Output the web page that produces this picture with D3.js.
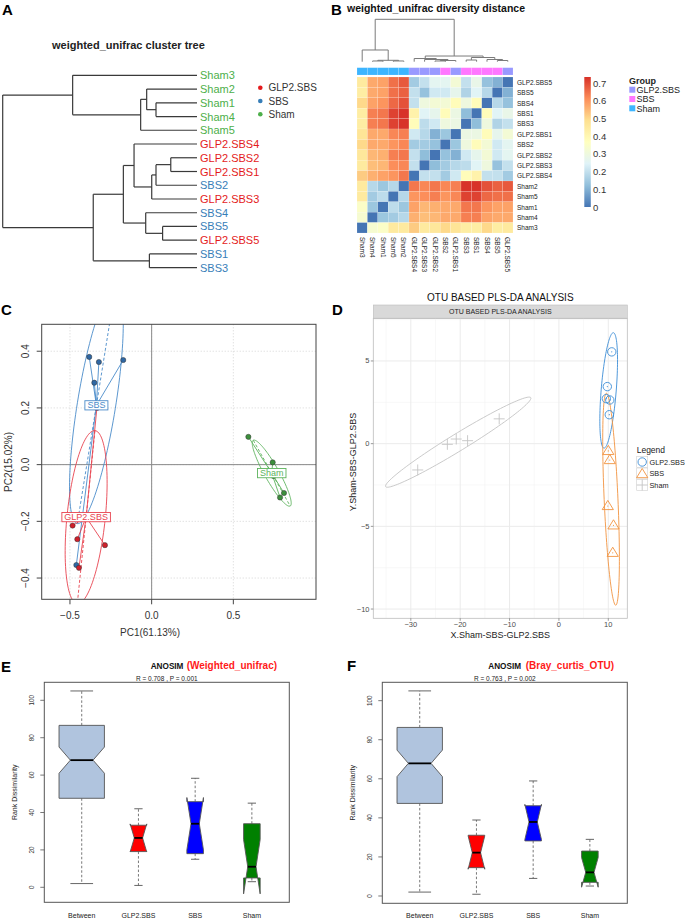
<!DOCTYPE html>
<html><head><meta charset="utf-8">
<script src="https://cdn.jsdelivr.net/npm/d3@7"></script>
<style>body{margin:0;background:#fff}svg{display:block}text{font-family:"Liberation Sans",Arial,Helvetica,sans-serif}</style>
</head><body><svg id="c" width="685" height="920"></svg>
<script>
// ---------------- DATA ----------------
// Panel A: cluster tree (h = relative merge height)
const treeA = {h:1, children:[
  {h:0.64, children:[{name:"Sham3"},
    {h:0.29, children:[{h:0.259, children:[{name:"Sham2"},{h:0.211, children:[{name:"Sham1"},{name:"Sham4"}]}]},{name:"Sham5"}]}]},
  {h:0.534, children:[
    {h:0.379, children:[
      {h:0.324, children:[{name:"GLP2.SBS4"},
        {h:0.233, children:[{h:0.211, children:[{h:0.135, children:[{name:"GLP2.SBS2"},{name:"GLP2.SBS1"}]},{name:"SBS2"}]},{name:"GLP2.SBS3"}]}]},
      {h:0.264, children:[{name:"SBS4"},{h:0.177, children:[{name:"SBS5"},{name:"GLP2.SBS5"}]}]}]},
    {h:0.245, children:[{name:"SBS1"},{name:"SBS3"}]}]}]};
const groupNames = ["GLP2.SBS","SBS","Sham"];
const groupColorsA = ["#E41A1C","#377EB8","#4DAF4A"];

// Panel B: heatmap
const hmCols = ["Sham3","Sham4","Sham1","Sham5","Sham2","GLP2.SBS4","GLP2.SBS3","GLP2.SBS2","SBS2","GLP2.SBS1","SBS3","SBS1","SBS4","SBS5","GLP2.SBS5"];
const hmRows = ["GLP2.SBS5","SBS5","SBS4","SBS1","SBS3","GLP2.SBS1","SBS2","GLP2.SBS2","GLP2.SBS3","GLP2.SBS4","Sham2","Sham5","Sham1","Sham4","Sham3"];
const hmValues = [
 [0.45,0.57,0.58,0.65,0.68, 0.15,0.20,0.26,0.26,0.32, 0.20,0.28,0.13,0.10,0.00],
 [0.44,0.57,0.58,0.65,0.67, 0.20,0.13,0.22,0.22,0.27, 0.17,0.25,0.18,0.00,0.10],
 [0.50,0.58,0.60,0.66,0.69, 0.20,0.30,0.32,0.32,0.38, 0.30,0.38,0.00,0.18,0.13],
 [0.44,0.63,0.64,0.71,0.73, 0.42,0.25,0.27,0.38,0.29, 0.12,0.00,0.38,0.25,0.28],
 [0.44,0.63,0.64,0.71,0.73, 0.38,0.19,0.22,0.30,0.29, 0.00,0.12,0.30,0.17,0.20],
 [0.47,0.57,0.57,0.62,0.63, 0.22,0.18,0.10,0.14,0.00, 0.29,0.29,0.38,0.27,0.32],
 [0.50,0.57,0.57,0.60,0.62, 0.15,0.15,0.13,0.00,0.14, 0.30,0.38,0.32,0.22,0.26],
 [0.46,0.55,0.56,0.63,0.64, 0.20,0.12,0.00,0.13,0.10, 0.22,0.27,0.32,0.22,0.26],
 [0.45,0.54,0.55,0.61,0.62, 0.20,0.00,0.12,0.15,0.18, 0.19,0.25,0.30,0.13,0.20],
 [0.52,0.56,0.58,0.60,0.64, 0.00,0.20,0.20,0.15,0.22, 0.38,0.42,0.20,0.20,0.15],
 [0.45,0.18,0.14,0.18,0.00, 0.64,0.62,0.64,0.62,0.63, 0.73,0.73,0.69,0.67,0.68],
 [0.45,0.15,0.19,0.00,0.18, 0.60,0.61,0.63,0.60,0.62, 0.71,0.71,0.66,0.65,0.65],
 [0.35,0.14,0.00,0.19,0.14, 0.58,0.55,0.56,0.57,0.57, 0.64,0.64,0.60,0.58,0.58],
 [0.33,0.00,0.14,0.15,0.18, 0.56,0.54,0.55,0.57,0.57, 0.63,0.63,0.58,0.57,0.57],
 [0.00,0.33,0.35,0.45,0.45, 0.52,0.45,0.46,0.50,0.47, 0.44,0.44,0.50,0.44,0.45]];
const hmColGroup = ["Sham","Sham","Sham","Sham","Sham","GLP2.SBS","GLP2.SBS","GLP2.SBS","SBS","GLP2.SBS","SBS","SBS","SBS","SBS","GLP2.SBS"];
const hmGroupColors = ["#9999FF","#FF77FF","#3DB5FF"];
const hmPalette = ["#4575B4","#91BFDB","#E0F3F8","#FFFFBF","#FEE090","#FC8D59","#D73027"];
const hmMax = 0.734;
const hmTicks = [0,0.1,0.2,0.3,0.4,0.5,0.6,0.7];
const treeB = {h:1, children:[
  {h:0.276, children:[{name:"Sham3"},{h:0.033, children:[{h:0.017, children:[{name:"Sham4"},{name:"Sham1"}]},{h:0.017, children:[{name:"Sham5"},{name:"Sham2"}]}]}]},
  {h:0.134, children:[
    {h:0.075, children:[{name:"GLP2.SBS4"},{h:0.052, children:[{name:"GLP2.SBS3"},{h:0.028, children:[{h:0.017, children:[{name:"GLP2.SBS2"},{name:"SBS2"}]},{name:"GLP2.SBS1"}]}]}]},
    {h:0.099, children:[{h:0.04, children:[{name:"SBS3"},{name:"SBS1"}]},{h:0.052, children:[{name:"SBS4"},{h:0.028, children:[{name:"SBS5"},{name:"GLP2.SBS5"}]}]}]}]}]};

// Panel C: PCoA
const pcTicksX = [-0.5,0,0.5];
const pcTicksY = [-0.4,-0.2,0,0.2,0.4];
const pcGroups = ["SBS","GLP2.SBS","Sham"];
const pcColors = ["#4A8BC9","#E8434F","#5DB35D"];
const pcPointColors = ["#2F67A3","#D01F2B","#3C8F3C"];
const pcSBSx = [-0.382,-0.323,-0.174,-0.351,-0.461];
const pcSBSy = [0.380,0.362,0.369,0.289,-0.354];
const pcGLPx = [-0.484,-0.455,-0.286,-0.445,-0.335];
const pcGLPy = [-0.215,-0.263,-0.284,-0.364,0.200];
const pcShamx = [0.592,0.741,0.810,0.786,0.746];
const pcShamy = [0.098,0.008,-0.100,-0.116,-0.040];
const pcEllVertexX = [-0.455,-0.347,0.622];
const pcEllVertexY = [-0.208,0.120,0.086];
const pcEllRatio = [0.16,0.22,0.19];

// Panel D: PLS-DA
const plsTicksX = [-30,-20,-10,0,10];
const plsTicksY = [-10,-5,0,5];
const plsGroups = ["GLP2.SBS","SBS","Sham"];
const plsColors = ["#3C8DD6","#F29340","#C4C4C4"];
const plsGLPx = [10.7,9.8,9.6,10.3,10.2];
const plsGLPy = [5.55,3.45,2.72,2.64,1.75];
const plsSBSx = [10.0,10.3,9.9,11.05,10.9];
const plsSBSy = [-0.44,-0.99,-3.77,-4.94,-6.6];
const plsShamx = [-28.6,-22.6,-20.8,-18.5,-12.1];
const plsShamy = [-1.59,-0.04,0.28,0.18,1.5];
const plsEllCx = [10.08,10.56,-20.4];
const plsEllCy = [3.22,-3.36,0.09];
const plsEllVx = [11.03,9.61,-35.1];
const plsEllVy = [6.71,3.05,-2.6];
const plsEllRatio = [0.13,0.065,0.1];

// Panels E/F: ANOSIM boxplots
const anoGroups = ["Between","GLP2.SBS","SBS","Sham"];
const anoN = [75,10,10,10];
const anoFill = ["#B0C4DE","#FF0000","#0000FF","#008000"];
const anoTicks = [0,20,40,60,80,100];
const eLo = [2,1,15,3], eQ1 = [47.6,19.1,18,5], eMed = [68,26.4,34,11], eQ3 = [86.6,33.2,45.8,34], eHi = [105,42,58.3,45], eNotch = [7,7.5,14,14.5];
const fLo = [2,0.9,9,5.1], fQ1 = [47.4,14.5,28.2,7.0], fMed = [67.9,22.2,37.9,12.1], fQ3 = [86.3,31.1,46.2,23.0], fHi = [105,38.9,58.9,29], fNotch = [6.8,8.5,9,7.6];
const eStat = ["0.708","0.001"], fStat = ["0.763","0.002"];

// ---------------- DRAW ----------------
const svg = d3.select("#c");
svg.append("rect").attr("width",685).attr("height",920).attr("fill","#fff");
function T(g,x,y,s,o){const t=g.append("text").attr("x",x).attr("y",y).text(s);
  Object.entries(o||{}).forEach(([k,v])=>t.attr(k,v));return t;}

// panel letters
[["A",2,15],["B",331,15],["C",1,315],["D",332,315],["E",1,672],["F",347,671]].forEach(d=>
  T(svg,d[1],d[2],d[0],{"font-size":15,"font-weight":"bold"}));

// ---- Panel A ----
{
  const g = svg.append("g");
  T(g,52,49,"weighted_unifrac cluster tree",{"font-size":11,"font-weight":"bold","fill":"#222"});
  const root = d3.hierarchy(treeA);
  const leaves = root.leaves();
  const y = d3.scaleLinear().domain([0,leaves.length-1]).range([75.3,267.7]);
  const x = d3.scaleLinear().domain([0,1]).range([197,2.7]);
  leaves.forEach((l,i)=>{l.py=y(i);l.data.h=0;});
  root.eachAfter(n=>{if(n.children) n.py=(n.children[0].py+n.children[n.children.length-1].py)/2;});
  const col = name => groupColorsA[name.startsWith("GLP2")?0:name.startsWith("SBS")?1:2];
  root.each(n=>{
    if(!n.children) return;
    const nx = x(n.data.h);
    g.append("line").attr("x1",nx).attr("x2",nx).attr("y1",n.children[0].py).attr("y2",n.children[1].py)
      .attr("stroke","#3a3a3a").attr("stroke-width",1.2);
    n.children.forEach(c=>g.append("line").attr("x1",nx).attr("x2",x(c.data.h)).attr("y1",c.py).attr("y2",c.py)
      .attr("stroke","#3a3a3a").attr("stroke-width",1.2));
  });
  leaves.forEach(l=>T(g,200,l.py,l.data.name,{"font-size":11,"fill":col(l.data.name),"dominant-baseline":"central"}));
  groupNames.forEach((n,i)=>{
    g.append("circle").attr("cx",260.3).attr("cy",87.7+i*13.3).attr("r",2.3).attr("fill",groupColorsA[i]);
    T(g,268.5,87.7+i*13.3,n,{"font-size":10,"fill":"#333","dominant-baseline":"central"});
  });
}

// ---- Panel B ----
{
  const g = svg.append("g");
  T(g,347,11.5,"weighted_unifrac diversity distance",{"font-size":10.5,"font-weight":"bold","fill":"#111"});
  const cs = 10.4, x0 = 357, y0 = 77;
  const xb = d3.scaleBand().domain(hmCols).range([x0,x0+cs*hmCols.length]);
  const yb = d3.scaleBand().domain(hmRows).range([y0,y0+cs*hmRows.length]);
  const cScale = d3.scaleLinear().domain(hmPalette.map((c,i)=>i*hmMax/(hmPalette.length-1))).range(hmPalette).interpolate(d3.interpolateRgb);
  hmRows.forEach((r,i)=>hmCols.forEach((c,j)=>{
    g.append("rect").attr("x",xb(c)).attr("y",yb(r)).attr("width",xb.bandwidth()).attr("height",yb.bandwidth())
      .attr("fill",cScale(hmValues[i][j])).attr("stroke","#fff").attr("stroke-opacity",0.35).attr("stroke-width",0.4);
  }));
  // annotation bar
  hmCols.forEach((c,j)=>g.append("rect").attr("x",xb(c)).attr("y",67.7).attr("width",xb.bandwidth()).attr("height",7.3)
    .attr("fill",hmGroupColors[groupNames.indexOf(hmColGroup[j])]).attr("stroke","#fff").attr("stroke-opacity",0.3).attr("stroke-width",0.4));
  // labels
  hmRows.forEach(r=>T(g,517,yb(r)+cs/2,r,{"font-size":6.5,"fill":"#222","dominant-baseline":"central"}));
  hmCols.forEach(c=>T(g,0,0,c,{"font-size":6.5,"fill":"#222","dominant-baseline":"central",
    "transform":`translate(${xb(c)+cs/2},237) rotate(90)`}));
  // column dendrogram
  const root = d3.hierarchy(treeB);
  const ty = d3.scaleLinear().domain([0,1]).range([61.7,19.3]);
  root.leaves().forEach(l=>{l.px=xb(l.data.name)+cs/2;l.data.h=0;});
  root.eachAfter(n=>{if(n.children) n.px=(n.children[0].px+n.children[1].px)/2;});
  root.each(n=>{
    if(!n.children) return;
    const ny = ty(n.data.h);
    g.append("line").attr("x1",n.children[0].px).attr("x2",n.children[1].px).attr("y1",ny).attr("y2",ny).attr("stroke","#7a7a7a").attr("stroke-width",1);
    n.children.forEach(c=>g.append("line").attr("x1",c.px).attr("x2",c.px).attr("y1",ny).attr("y2",ty(c.data.h)).attr("stroke","#7a7a7a").attr("stroke-width",1));
  });
  // colour bar
  const defs = svg.append("defs");
  const gr = defs.append("linearGradient").attr("id","hmgrad").attr("x1",0).attr("y1",1).attr("x2",0).attr("y2",0);
  hmPalette.forEach((c,i)=>gr.append("stop").attr("offset",i/(hmPalette.length-1)).attr("stop-color",c));
  const by = d3.scaleLinear().domain([0,hmMax]).range([207,77]);
  g.append("rect").attr("x",584.3).attr("y",77).attr("width",6.5).attr("height",130).attr("fill","url(#hmgrad)");
  hmTicks.forEach(t=>T(g,593,by(t),String(t),{"font-size":9.5,"fill":"#333","dominant-baseline":"central"}));
  // group legend
  T(g,629,84,"Group",{"font-size":9,"font-weight":"bold","fill":"#222"});
  groupNames.forEach((n,i)=>{
    g.append("rect").attr("x",629.3).attr("y",86.7+i*9.3).attr("width",6).attr("height",6).attr("fill",hmGroupColors[i]);
    T(g,636.5,89.9+i*9.3,n,{"font-size":9,"fill":"#222","dominant-baseline":"central"});
  });
}

// ellipse helper (pixel space)
function ellipsePath(cx,cy,vx,vy,ratio){
  const a=Math.hypot(vx-cx,vy-cy), th=Math.atan2(vy-cy,vx-cx), b=a*ratio;
  const pts=d3.range(0,361,3).map(d=>{const t=d*Math.PI/180;
    return [cx+a*Math.cos(t)*Math.cos(th)-b*Math.sin(t)*Math.sin(th), cy+a*Math.cos(t)*Math.sin(th)+b*Math.sin(t)*Math.cos(th)];});
  return d3.line()(pts)+"Z";
}

// ---- Panel C ----
{
  const g = svg.append("g");
  const L=41.7,R=316,Tp=324.3,B=599.3;
  const x = d3.scaleLinear().domain([-0.673,1.006]).range([L,R]);
  const y = d3.scaleLinear().domain([-0.475,0.495]).range([B,Tp]);
  svg.select("defs").append("clipPath").attr("id","clipC").append("rect").attr("x",L).attr("y",Tp).attr("width",R-L).attr("height",B-Tp);
  pcTicksX.forEach(t=>g.append("line").attr("x1",x(t)).attr("x2",x(t)).attr("y1",Tp).attr("y2",B).attr("stroke","#d4d4d4").attr("stroke-dasharray","1,2"));
  pcTicksY.forEach(t=>g.append("line").attr("x1",L).attr("x2",R).attr("y1",y(t)).attr("y2",y(t)).attr("stroke","#d4d4d4").attr("stroke-dasharray","1,2"));
  g.append("line").attr("x1",x(0)).attr("x2",x(0)).attr("y1",Tp).attr("y2",B).attr("stroke","#8a8a8a").attr("stroke-width",1);
  g.append("line").attr("x1",L).attr("x2",R).attr("y1",y(0)).attr("y2",y(0)).attr("stroke","#8a8a8a").attr("stroke-width",1);
  const pg = g.append("g").attr("clip-path","url(#clipC)");
  const xs=[pcSBSx,pcGLPx,pcShamx], ys=[pcSBSy,pcGLPy,pcShamy];
  const cents = xs.map((a,i)=>[d3.mean(a),d3.mean(ys[i])]);
  pcGroups.forEach((gname,i)=>{
    const cx=x(cents[i][0]), cy=y(cents[i][1]), vx=x(pcEllVertexX[i]), vy=y(pcEllVertexY[i]);
    pg.append("path").attr("d",ellipsePath(cx,cy,vx,vy,pcEllRatio[i])).attr("fill","none").attr("stroke",pcColors[i]).attr("stroke-width",0.9);
    pg.append("line").attr("x1",vx).attr("y1",vy).attr("x2",2*cx-vx).attr("y2",2*cy-vy).attr("stroke",pcColors[i]).attr("stroke-width",0.9).attr("stroke-dasharray","3,2");
    xs[i].forEach((px,k)=>pg.append("line").attr("x1",cx).attr("y1",cy).attr("x2",x(px)).attr("y2",y(ys[i][k])).attr("stroke",pcColors[i]).attr("stroke-width",0.9));
  });
  pcGroups.forEach((gname,i)=>xs[i].forEach((px,k)=>pg.append("circle").attr("cx",x(px)).attr("cy",y(ys[i][k])).attr("r",2.6)
    .attr("fill",pcPointColors[i]).attr("stroke","#333").attr("stroke-width",0.5)));
  pcGroups.forEach((gname,i)=>{
    const cx=x(cents[i][0]), cy=y(cents[i][1]);
    const lg=g.append("g");
    const rc=lg.append("rect");
    const t=T(lg,cx,cy,gname,{"font-size":9,"fill":pcColors[i],"text-anchor":"middle","dominant-baseline":"central"});
    const w=t.node().getComputedTextLength();
    rc.attr("x",cx-w/2-2.5).attr("y",cy-4.6).attr("width",w+5).attr("height",9.2).attr("fill","#fff").attr("stroke",pcColors[i]).attr("stroke-width",0.9);
  });
  g.append("rect").attr("x",L).attr("y",Tp).attr("width",R-L).attr("height",B-Tp).attr("fill","none").attr("stroke","#444").attr("stroke-width",1);
  pcTicksX.forEach(t=>{g.append("line").attr("x1",x(t)).attr("x2",x(t)).attr("y1",B).attr("y2",B+5).attr("stroke","#444");
    T(g,x(t),618.5,d3.format(".1f")(t).replace("-","\u2212"),{"font-size":10,"fill":"#333","text-anchor":"middle"});});
  pcTicksY.forEach(t=>{g.append("line").attr("x1",L-5).attr("x2",L).attr("y1",y(t)).attr("y2",y(t)).attr("stroke","#444");
    T(g,0,0,d3.format(".1f")(t).replace("-","\u2212"),{"font-size":10,"fill":"#333","text-anchor":"middle","transform":`translate(28.5,${y(t)}) rotate(-90)`});});
  T(g,150,636,"PC1(61.13%)",{"font-size":10,"fill":"#333","text-anchor":"middle"});
  T(g,0,0,"PC2(15.02%)",{"font-size":10,"fill":"#333","text-anchor":"middle","transform":`translate(12,462) rotate(-90)`});
}

// ---- Panel D ----
{
  const g = svg.append("g");
  const L=373.3,R=627.3,Tp=318.3,B=618.3;
  const x = d3.scaleLinear().domain([-37.6,13.85]).range([L,R]);
  const y = d3.scaleLinear().domain([-10.56,7.58]).range([B,Tp]);
  T(g,(L+R)/2,301,"OTU BASED PLS-DA ANALYSIS",{"font-size":10,"fill":"#111","text-anchor":"middle"});
  g.append("rect").attr("x",L).attr("y",305).attr("width",R-L).attr("height",13.3).attr("fill","#D9D9D9").attr("stroke","#BDBDBD").attr("stroke-width",0.6);
  T(g,(L+R)/2,311.8,"OTU BASED PLS-DA ANALYSIS",{"font-size":7,"fill":"#222","text-anchor":"middle","dominant-baseline":"central"});
  const minorX = plsTicksX.map(t=>t-5).concat([15]), minorY = [-7.5,-2.5,2.5,7.5];
  svg.select("defs").append("clipPath").attr("id","clipD").append("rect").attr("x",L).attr("y",Tp).attr("width",R-L).attr("height",B-Tp);
  const pg = g.append("g").attr("clip-path","url(#clipD)");
  minorX.forEach(t=>pg.append("line").attr("x1",x(t)).attr("x2",x(t)).attr("y1",Tp).attr("y2",B).attr("stroke","#F4F4F4").attr("stroke-width",0.6));
  minorY.forEach(t=>pg.append("line").attr("x1",L).attr("x2",R).attr("y1",y(t)).attr("y2",y(t)).attr("stroke","#F4F4F4").attr("stroke-width",0.6));
  plsTicksX.forEach(t=>pg.append("line").attr("x1",x(t)).attr("x2",x(t)).attr("y1",Tp).attr("y2",B).attr("stroke","#EBEBEB").attr("stroke-width",1));
  plsTicksY.forEach(t=>pg.append("line").attr("x1",L).attr("x2",R).attr("y1",y(t)).attr("y2",y(t)).attr("stroke","#EBEBEB").attr("stroke-width",1));
  plsGroups.forEach((n,i)=>pg.append("path").attr("d",ellipsePath(x(plsEllCx[i]),y(plsEllCy[i]),x(plsEllVx[i]),y(plsEllVy[i]),plsEllRatio[i]))
    .attr("fill","none").attr("stroke",plsColors[i]).attr("stroke-width",0.9));
  const sym = (sel,i,cx,cy)=>{
    if(i===0) sel.append("circle").attr("cx",cx).attr("cy",cy).attr("r",4.2).attr("fill","none").attr("stroke",plsColors[0]).attr("stroke-width",0.9);
    else if(i===1) sel.append("path").attr("d",`M${cx},${cy-5.6}L${cx+5.6},${cy+3.6}L${cx-5.6},${cy+3.6}Z`).attr("fill","none").attr("stroke",plsColors[1]).attr("stroke-width",0.9);
    else sel.append("path").attr("d",`M${cx-5.5},${cy}H${cx+5.5}M${cx},${cy-5.5}V${cy+5.5}`).attr("stroke",plsColors[2]).attr("stroke-width",0.9);
  };
  const dx=[plsGLPx,plsSBSx,plsShamx], dy=[plsGLPy,plsSBSy,plsShamy];
  plsGroups.forEach((n,i)=>dx[i].forEach((v,k)=>{sym(pg,i,x(v),y(dy[i][k]));
    if(i<2) pg.append("circle").attr("cx",x(v)).attr("cy",y(dy[i][k])).attr("r",0.6).attr("fill",plsColors[i]);}));
  g.append("rect").attr("x",L).attr("y",Tp).attr("width",R-L).attr("height",B-Tp).attr("fill","none").attr("stroke","#BDBDBD").attr("stroke-width",0.8);
  plsTicksX.forEach(t=>{g.append("line").attr("x1",x(t)).attr("x2",x(t)).attr("y1",B).attr("y2",B+2.5).attr("stroke","#555").attr("stroke-width",0.6);
    T(g,x(t),627,String(t).replace("-","\u2212"),{"font-size":7.5,"fill":"#4D4D4D","text-anchor":"middle"});});
  plsTicksY.forEach(t=>{g.append("line").attr("x1",L-2.5).attr("x2",L).attr("y1",y(t)).attr("y2",y(t)).attr("stroke","#555").attr("stroke-width",0.6);
    T(g,369.5,y(t),String(t).replace("-","\u2212"),{"font-size":7.5,"fill":"#4D4D4D","text-anchor":"end","dominant-baseline":"central"});});
  T(g,(L+R)/2,638,"X.Sham-SBS-GLP2.SBS",{"font-size":9,"fill":"#222","text-anchor":"middle"});
  T(g,0,0,"Y.Sham-SBS-GLP2.SBS",{"font-size":9,"fill":"#222","text-anchor":"middle","transform":`translate(355.5,462) rotate(-90)`});
  // legend
  T(g,636.7,453,"Legend",{"font-size":8.5,"fill":"#222"});
  plsGroups.forEach((n,i)=>{
    const ky=456.5+i*11.5;
    g.append("rect").attr("x",636.7).attr("y",ky).attr("width",11).attr("height",11).attr("fill","#fff").attr("stroke","#D0D0D0").attr("stroke-width",0.6);
    sym(g,i,642.2,ky+5.5+(i===1?0.6:0));
    T(g,649.5,ky+5.8,n,{"font-size":7.3,"fill":"#222","dominant-baseline":"central"});
  });
}

// ---- Panels E, F ----
function anosim(L,R,Tp,B,yDom,lo,q1,med,q3,hi,notch,stat,sub,titleX,redX,ylabX){
  const g = svg.append("g");
  const x = d3.scaleLinear().domain([0.34,4.66]).range([L,R]);
  const y = d3.scaleLinear().domain(yDom).range([B,Tp]);
  const maxN = d3.max(anoN);
  anoGroups.forEach((n,i)=>{
    const cx = x(i+1), w = x(0.4*Math.sqrt(anoN[i]/maxN)) - x(0);
    g.append("line").attr("x1",cx).attr("x2",cx).attr("y1",y(q3[i])).attr("y2",y(hi[i])).attr("stroke","#555").attr("stroke-dasharray","2.5,2").attr("stroke-width",0.8);
    g.append("line").attr("x1",cx).attr("x2",cx).attr("y1",y(q1[i])).attr("y2",y(lo[i])).attr("stroke","#555").attr("stroke-dasharray","2.5,2").attr("stroke-width",0.8);
    [lo[i],hi[i]].forEach(v=>g.append("line").attr("x1",cx-w/2).attr("x2",cx+w/2).attr("y1",y(v)).attr("y2",y(v)).attr("stroke","#555").attr("stroke-width",0.9));
    const nl = med[i]-notch[i], nh = med[i]+notch[i];
    const pts = [[cx-w,y(q1[i])],[cx-w,y(nl)],[cx-w/2,y(med[i])],[cx-w,y(nh)],[cx-w,y(q3[i])],
                 [cx+w,y(q3[i])],[cx+w,y(nh)],[cx+w/2,y(med[i])],[cx+w,y(nl)],[cx+w,y(q1[i])]];
    g.append("path").attr("d",d3.line()(pts)+"Z").attr("fill",anoFill[i]).attr("stroke","#555").attr("stroke-width",0.9);
    g.append("line").attr("x1",cx-w/2).attr("x2",cx+w/2).attr("y1",y(med[i])).attr("y2",y(med[i])).attr("stroke","#000").attr("stroke-width",1.8);
    T(g,cx,917.5,n,{"font-size":7,"fill":"#222","text-anchor":"middle"});
  });
  g.append("rect").attr("x",L).attr("y",Tp).attr("width",R-L).attr("height",B-Tp).attr("fill","none").attr("stroke","#555").attr("stroke-width",1);
  anoTicks.forEach(t=>{g.append("line").attr("x1",L-4).attr("x2",L).attr("y1",y(t)).attr("y2",y(t)).attr("stroke","#555").attr("stroke-width",0.8);
    T(g,0,0,String(t),{"font-size":6.3,"fill":"#333","text-anchor":"middle","transform":`translate(${L-10},${y(t)}) rotate(-90)`});});
  T(g,0,0,"Rank Dissimilarity",{"font-size":7,"fill":"#222","text-anchor":"middle","transform":`translate(${ylabX},${(Tp+B)/2}) rotate(-90)`});
  T(g,titleX,668.5,"ANOSIM",{"font-size":8.2,"font-weight":"bold","fill":"#111"});
  T(g,redX,668.5,sub,{"font-size":10,"font-weight":"bold","fill":"#FF1A1A"});
  T(g,(L+R)/2,681,`R =  ${stat[0]} ,  P =  ${stat[1]}`,{"font-size":6.5,"fill":"#222","text-anchor":"middle"});
}
anosim(44.3,289.3,682.3,902.3,[-8.02,109.63],eLo,eQ1,eMed,eQ3,eHi,eNotch,eStat,"(Weighted_unifrac)",150.7,186.7,17);
anosim(382.3,627.3,682.3,903.3,[-3.74,109.4],fLo,fQ1,fMed,fQ3,fHi,fNotch,fStat,"(Bray_curtis_OTU)",488.3,525.7,355);
</script></body></html>
